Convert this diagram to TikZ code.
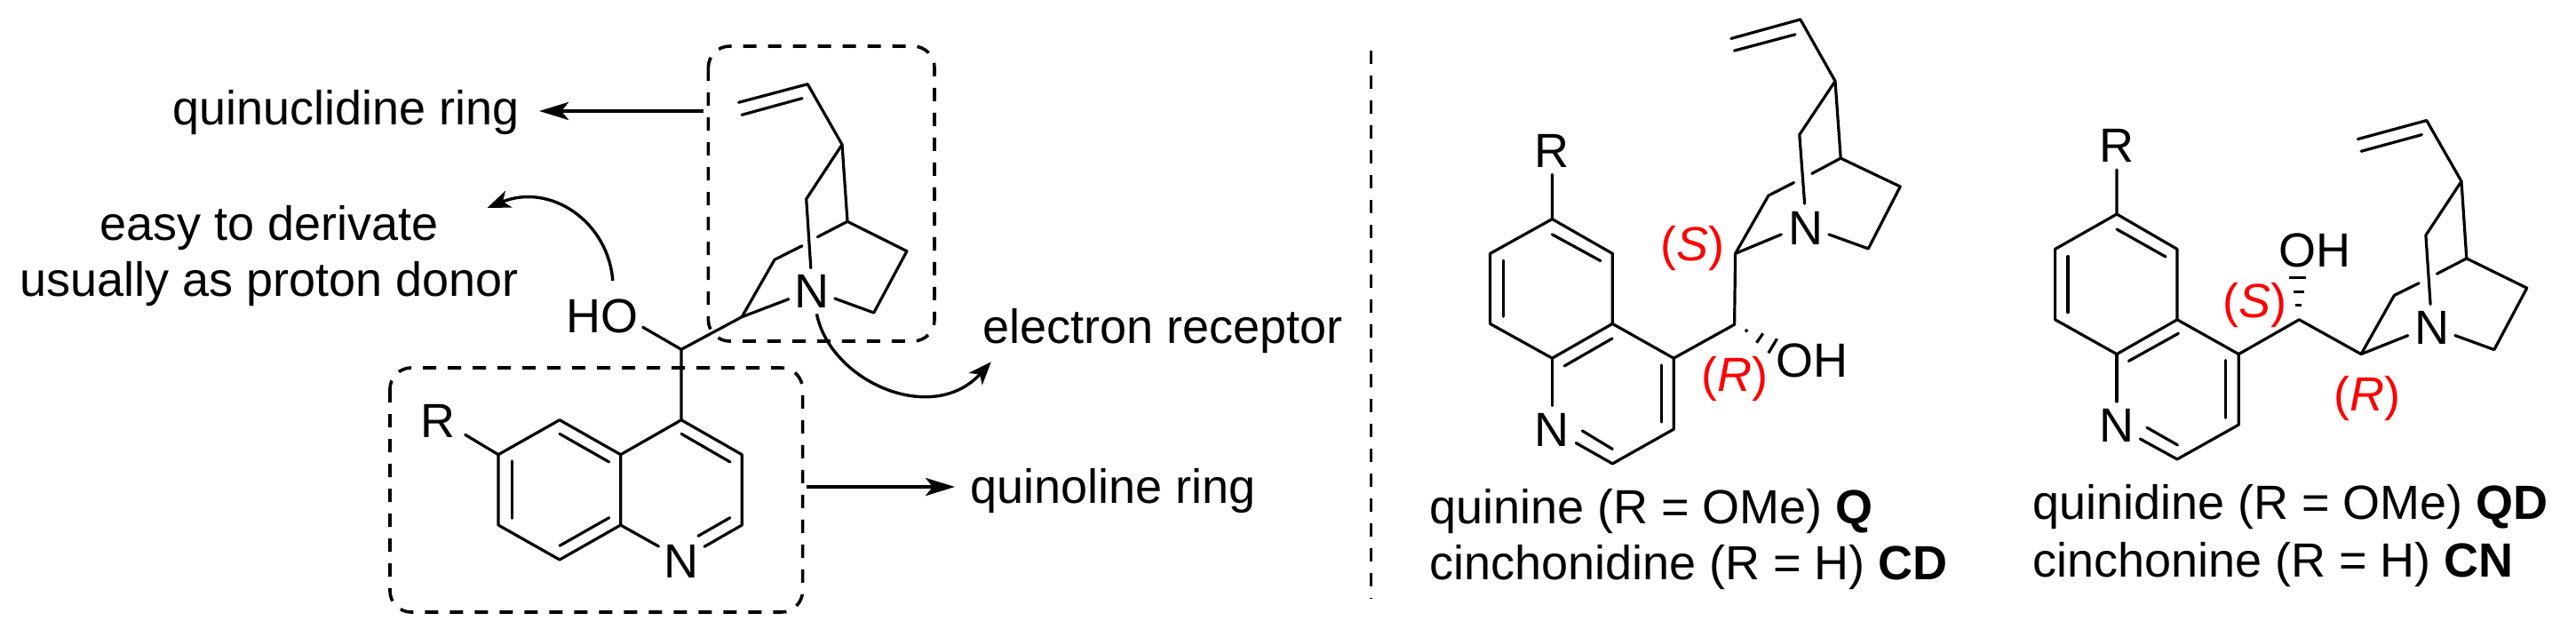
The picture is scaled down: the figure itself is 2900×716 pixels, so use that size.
\documentclass[tikz,border=0pt]{standalone}
\usepackage{fontspec}
\setmainfont{Liberation Sans}
\usetikzlibrary{arrows.meta}
\tikzset{
  bond/.style={line width=3.2pt,line cap=round,line join=round,black},
  dbox/.style={line width=3.6pt,dash pattern=on 15pt off 13pt,rounded corners=24pt,black},
  divider/.style={line width=3.2pt,dash pattern=on 15pt off 13pt,black},
  arr/.style={line width=4pt,-{Stealth[length=33pt,width=20pt,inset=8pt]}},
  carr/.style={line width=3.4pt,-{Stealth[length=26pt,width=20pt,inset=7pt]}},
  txt/.style={inner sep=0pt,font=\fontsize{54}{60}\selectfont},
  chiral/.style={txt,red},
}
\newcommand{\pts}[1]{\foreach \n/\x/\y in {#1} {\coordinate (\n) at (\x,\y);}}
\begin{document}
\begin{tikzpicture}[x=1pt,y=-1pt]
\useasboundingbox (0,0) rectangle (2900,716);
\fill[white] (0,0) rectangle (2900,716);

% ---- left structure: coordinates
\pts{a9/767/393.3,a4/767/472.7,a4a/698.7/511.7,a3/835.3/511.7,a2/835.3/591,a8a/698.7/591,a8/630/630,a7/561/591,a6/561/511.7,a5/630/472.7,
 aRb/523.7/489.3,aOb/723.7/368.3,aC2/835.2/356.7,
 i5a/630/488.3,i5b/685.7/520,i7a/576.3/519,i7b/576.3/583.3,i8a/630/614.3,i8b/685.7/582.7,i4a/767/488.3,i4b/821.9/520,
 aNo/792.9/615.3,aNi/786/603.3,aNi2/821.9/582.7,aNr/741.5/615,
 aV/909.2/94.7,aVo/831.6/115.3,aVi/835.2/129.3,aVj/903/110.7,aC3/948/162.7,aBr/907.7/224,aBrN/912.8/301.7,aC4/954/249.3,aG1/920.4/266.7,aG2/903/276.7,aC1/872/292.3,
 aN2/887.8/336.7,aN3/939.8/336,aC5/983.7/352,aC6/1020.9/282.7}
\draw[dbox] (797.4,52) rectangle (1052,384);
\draw[dbox] (439,414) rectangle (903.6,689);
\node[txt] (aR) at (493,474) {R};
\node[txt] (aHO) at (678,356) {HO};
\node[txt] (aN) at (767,631.7) {N};
\node[txt] (aNq) at (914.3,328.3) {N};
\draw[bond] (aOb) -- (a9) -- (a4) -- (a4a) -- (a5) -- (a6) -- (a7) -- (a8) -- (a8a) -- (a4a);
\draw[bond] (a4) -- (a3) -- (a2) -- (aNo);
\draw[bond] (a8a) -- (aNr);
\draw[bond] (aRb) -- (a6);
\draw[bond] (a9) -- (aC2) -- (aN2);
\draw[bond] (i5a) -- (i5b);
\draw[bond] (i7a) -- (i7b);
\draw[bond] (i8a) -- (i8b);
\draw[bond] (i4a) -- (i4b);
\draw[bond] (aNi) -- (aNi2);
\draw[bond] (aVo) -- (aV) -- (aC3) -- (aBr) -- (aBrN);
\draw[bond] (aVi) -- (aVj);
\draw[bond] (aC3) -- (aC4) -- (aC6) -- (aC5) -- (aN3);
\draw[bond] (aC4) -- (aG1);
\draw[bond] (aG2) -- (aC1) -- (aC2);

% ---- left annotations
\node[txt,anchor=base west] (tq) at (194,140) {quinuclidine ring};
\node[txt,anchor=base] (te1) at (303,270) {easy to derivate};
\node[txt,anchor=base] (te2) at (303,333) {usually as proton donor};
\node[txt,anchor=base west] (tel) at (1106,386.7) {electron receptor};
\node[txt,anchor=base west] (tql) at (1092,566) {quinoline ring};
\pts{s1/792/125,e1/607/125,s2/907.6/548,e2/1075/548,s3/689.8/316,e3/548.5/234,s4/919.4/353.3,e4/1115.8/407.3}
\draw[arr] (s1) -- (e1);
\draw[arr] (s2) -- (e2);
\draw[carr] (s3) .. controls (685,250) and (620,205) .. (e3);
\draw[carr] (s4) .. controls (935,430) and (1050,480) .. (e4);

% ---- divider
\pts{d1/1543.5/57,d2/1543.5/673.5}
\draw[divider] (d1) -- (d2);

% ---- middle structure
\pts{b6/1747.4/246.6,b7/1677.5/285.4,b8/1677.5/364.4,b8a/1747.4/403.2,b5/1815.3/285.4,b4a/1815.3/364.4,b4/1884.2/403.2,b3/1884.2/483.1,b2/1815.3/521.9,
 bRb/1747.4/196.3,bNb/1747.4/456.6,bNo/1774.2/498.6,bNi/1781.3/484.9,bNj/1815.3/505.5,
 j5a/1747.4/263.9,j5b/1801.9/293.6,j7a/1692.8/293.2,j7b/1692.8/356.2,j8a/1761.2/411.9,j8b/1815/381,j4a/1870.3/411,j4b/1870.3/475,
 b9/1952.6/365.3,bC2/1953.6/285.4,bC1/1990.9/220.1,bG1/2019.6/205.5,bG2/2039.7/195.4,bC4/2072.2/178.1,bC5/2139.2/210,bC6/2103.3/279.9,bN3/2058.9/263.9,bN2/2005.3/263.9,
 bBrN/2031.6/229.2,bBr/2025.8/151.6,bC3/2066/91.3,bV/2026.8/21.9,bVo/1948.8/43.4,bVi/1952.6/57,bVj/2021/38.8,
 h1a/1965.1/373.5,h1b/1967/370.8,h2a/1977.5/385.8,h2b/1984.7/375.3,h3a/1990.9/397.3,h3b/2000.5/381.3}
\node[txt] (bR) at (1747.4,169.9) {R};
\node[txt] (bN) at (1747.4,484) {N};
\node[txt] (bNq) at (2032.5,256.6) {N};
\node[txt] (bOH) at (2040.2,406.4) {OH};
\node[chiral] (bS) at (1905.7,279.5) {(\textit{S})};
\node[chiral] (bRc) at (1952.6,427) {(\textit{R})};
\draw[bond] (bRb) -- (b6) -- (b7) -- (b8) -- (b8a) -- (b4a) -- (b5) -- (b6);
\draw[bond] (b8a) -- (bNb);
\draw[bond] (b4a) -- (b4) -- (b3) -- (b2) -- (bNo);
\draw[bond] (bNi) -- (bNj);
\draw[bond] (j5a) -- (j5b);
\draw[bond] (j7a) -- (j7b);
\draw[bond] (j8a) -- (j8b);
\draw[bond] (j4a) -- (j4b);
\draw[bond] (b4) -- (b9) -- (bC2) -- (bN2);
\draw[bond] (bC2) -- (bC1) -- (bG1);
\draw[bond] (bG2) -- (bC4) -- (bC5) -- (bC6) -- (bN3);
\draw[bond] (bBrN) -- (bBr) -- (bC3) -- (bC4);
\draw[bond] (bC3) -- (bV) -- (bVo);
\draw[bond] (bVi) -- (bVj);
\draw[bond,line cap=butt] (h1a) -- (h1b);
\draw[bond,line cap=butt] (h2a) -- (h2b);
\draw[bond,line cap=butt] (h3a) -- (h3b);
\node[txt,anchor=base west] (t1) at (1609,589) {quinine (R = OMe) \textbf{Q}};
\node[txt,anchor=base west] (t2) at (1609,652) {cinchonidine (R = H) \textbf{CD}};

% ---- right structure
\pts{c6/2383/241,c7/2313.6/280.4,c8/2313.6/359.8,c8a/2383/398.6,c5/2451/280.4,c4a/2451/359.8,c4/2520.3/398.6,c3/2520.3/478.1,c2/2451/516.9,
 cRb/2383/190.9,cNb/2383/452,cNo/2409.3/494,cNi/2417/481.3,cNj/2451.4/500.9,
 k5a/2383/258,k5b/2438/289,k7a/2328/288.6,k7b/2328/351.6,k8a/2396.4/406.4,k8b/2452.4/375.3,k4a/2505.5/405.5,k4b/2505.5/470.3,
 c9/2588.3/359.8,cC2/2658.1/398.6,cC1/2695.4/332.4,cG1/2723.2/318.7,cG2/2743.3/308.2,cC4/2776.8/290.9,cC5/2844.7/324.2,cC6/2807.9/393.6,cN3/2763.9/377.6,cN2/2710.8/377.6,
 cBrN/2736.1/342.5,cBr/2730.9/264.8,cC3/2771/204.1,cV/2731.8/135.6,cVo/2654.3/156.6,cVi/2658.1/170.3,cVj/2726.5/151.6,
 m1a/2584.4/343.4,m1b/2591.2/343.4,m2a/2581.6/328.8,m2b/2594/328.8,m3a/2577.3/312.8,m3b/2596.4/312.8}
\node[txt] (cR) at (2382.5,164.4) {R};
\node[txt] (cN) at (2382.5,478.5) {N};
\node[txt] (cNq) at (2737.6,369) {N};
\node[txt] (cOH) at (2605.5,282.2) {OH};
\node[chiral] (cS) at (2538.5,343.4) {(\textit{S})};
\node[chiral] (cRc) at (2665.3,448.4) {(\textit{R})};
\draw[bond] (cRb) -- (c6) -- (c7) -- (c8) -- (c8a) -- (c4a) -- (c5) -- (c6);
\draw[bond] (c8a) -- (cNb);
\draw[bond] (c4a) -- (c4) -- (c3) -- (c2) -- (cNo);
\draw[bond] (cNi) -- (cNj);
\draw[bond] (k5a) -- (k5b);
\draw[bond] (k7a) -- (k7b);
\draw[bond] (k8a) -- (k8b);
\draw[bond] (k4a) -- (k4b);
\draw[bond] (c4) -- (c9) -- (cC2) -- (cN2);
\draw[bond] (cC2) -- (cC1) -- (cG1);
\draw[bond] (cG2) -- (cC4) -- (cC5) -- (cC6) -- (cN3);
\draw[bond] (cBrN) -- (cBr) -- (cC3) -- (cC4);
\draw[bond] (cC3) -- (cV) -- (cVo);
\draw[bond] (cVi) -- (cVj);
\draw[bond,line cap=butt] (m1a) -- (m1b);
\draw[bond,line cap=butt] (m2a) -- (m2b);
\draw[bond,line cap=butt] (m3a) -- (m3b);
\node[txt,anchor=base west] (t3) at (2288,584.5) {quinidine (R = OMe) \textbf{QD}};
\node[txt,anchor=base west] (t4) at (2288,649.3) {cinchonine (R = H) \textbf{CN}};
\end{tikzpicture}
\end{document}
